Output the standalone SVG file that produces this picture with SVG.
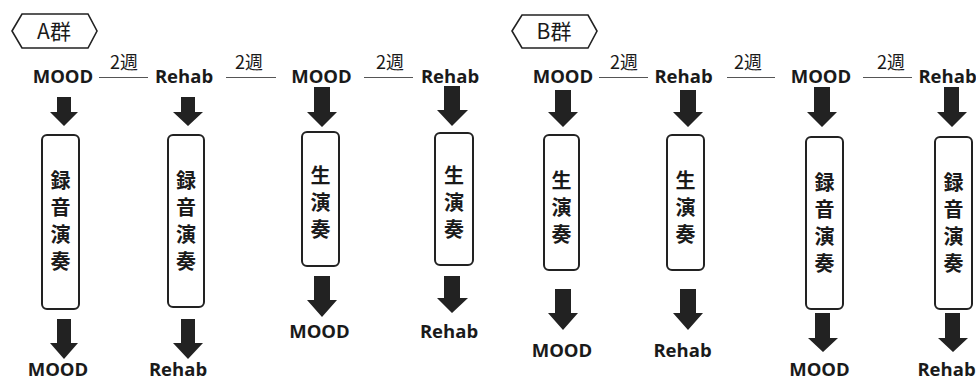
<svg xmlns="http://www.w3.org/2000/svg" width="976" height="378" viewBox="0 0 976 378">
<defs>
<style>
.lbl{font-family:"Open Sans","Noto Sans",sans-serif;font-weight:700;font-size:18.5px;fill:#1a1a1a;text-anchor:middle}
.wk{font-family:"Noto Sans CJK JP","Noto Sans",sans-serif;font-size:18px;fill:#1a1a1a;text-anchor:middle}
.grp{font-family:"Noto Sans CJK JP","Noto Sans",sans-serif;font-size:21px;fill:#1a1a1a;text-anchor:middle}
.box{fill:#fff;stroke:#222;stroke-width:2}
.hex{fill:#fff;stroke:#222;stroke-width:1.6}
.vt{font-family:"Noto Sans CJK JP",sans-serif;font-weight:700;font-size:20px;fill:#1a1a1a;writing-mode:vertical-rl;letter-spacing:7px;text-anchor:start}
.arr{fill:#222}
.ln{stroke:#555;stroke-width:1.2;fill:none}
</style>
</defs>
<rect width="976" height="378" fill="#fff"/>

<g id="groupA">
<polygon class="hex" points="12,31 22,14 88,14 97,31 88,48 22,48"/>
<text class="grp" x="54" y="39">A群</text>
</g>
<g id="groupB">
<polygon class="hex" points="512,31 522,15 588,15 597,31 588,48 522,48"/>
<text class="grp" x="554" y="39">B群</text>
</g>

<g id="connectors">
<line class="ln" x1="99" y1="77.5" x2="148" y2="77.5"/>
<line class="ln" x1="226" y1="77.5" x2="276" y2="77.5"/>
<line class="ln" x1="364" y1="77.5" x2="413" y2="77.5"/>
<line class="ln" x1="599" y1="77.5" x2="648" y2="77.5"/>
<line class="ln" x1="727" y1="77.5" x2="775" y2="77.5"/>
<line class="ln" x1="863" y1="77.5" x2="912" y2="77.5"/>
<text class="wk" x="124" y="69">2週</text>
<text class="wk" x="249" y="69">2週</text>
<text class="wk" x="390" y="69">2週</text>
<text class="wk" x="624" y="69">2週</text>
<text class="wk" x="748" y="69">2週</text>
<text class="wk" x="891" y="69">2週</text>
<polygon class="arr" points="57,97 71,97 71,112 78,112 64,126 50,112 57,112"/>
<polygon class="arr" points="57,319 71,319 71,343 78,343 64,359 50,343 57,343"/>
<polygon class="arr" points="181,97 195,97 195,112 203,112 188,126 173,112 181,112"/>
<polygon class="arr" points="181,319 195,319 195,343 203,343 188,359 173,343 181,343"/>
<polygon class="arr" points="314,87 330,87 330,112 337,112 322,127 307,112 314,112"/>
<polygon class="arr" points="314,276 330,276 330,300 337,300 322,317 307,300 314,300"/>
<polygon class="arr" points="444,86 460,86 460,110 468,110 452,126 437,110 444,110"/>
<polygon class="arr" points="444,276 460,276 460,298 468,298 452,313 437,298 444,298"/>
<polygon class="arr" points="555,90 571,90 571,112 578,112 563,127 548,112 555,112"/>
<polygon class="arr" points="555,289 571,289 571,313 578,313 563,330 548,313 555,313"/>
<polygon class="arr" points="680,90 696,90 696,112 703,112 688,127 673,112 680,112"/>
<polygon class="arr" points="680,289 696,289 696,313 703,313 688,330 673,313 680,313"/>
<polygon class="arr" points="814,87 830,87 830,112 837,112 822,127 807,112 814,112"/>
<polygon class="arr" points="815,313 830,313 830,338 838,338 823,352 808,338 815,338"/>
<polygon class="arr" points="944,87 959,87 959,112 967,112 952,127 937,112 944,112"/>
<polygon class="arr" points="945,313 960,313 960,338 968,338 953,352 938,338 945,338"/>
</g>

<g id="a1">
<text class="lbl" x="63" y="83">MOOD</text>
<rect class="box" x="42" y="135" width="37" height="174" rx="5"/>
<text class="vt" x="60.5" y="170">録音演奏</text>
<text class="lbl" x="58" y="376">MOOD</text>
</g>
<g id="a2">
<text class="lbl" x="184" y="83">Rehab</text>
<rect class="box" x="168" y="135" width="36" height="172" rx="5"/>
<text class="vt" x="186" y="170">録音演奏</text>
<text class="lbl" x="178" y="376">Rehab</text>
</g>
<g id="a3">
<text class="lbl" x="321.5" y="83">MOOD</text>
<rect class="box" x="302" y="132" width="37" height="134" rx="5"/>
<text class="vt" x="320.5" y="165">生演奏</text>
<text class="lbl" x="319.5" y="338">MOOD</text>
</g>
<g id="a4">
<text class="lbl" x="450" y="83">Rehab</text>
<rect class="box" x="435" y="133" width="38" height="132" rx="5"/>
<text class="vt" x="454" y="165">生演奏</text>
<text class="lbl" x="449" y="338">Rehab</text>
</g>
<g id="b5">
<text class="lbl" x="563" y="83">MOOD</text>
<rect class="box" x="544" y="135" width="35" height="135" rx="5"/>
<text class="vt" x="561.5" y="170">生演奏</text>
<text class="lbl" x="562" y="357">MOOD</text>
</g>
<g id="b6">
<text class="lbl" x="683.5" y="83">Rehab</text>
<rect class="box" x="667" y="135" width="37" height="135" rx="5"/>
<text class="vt" x="685.5" y="170">生演奏</text>
<text class="lbl" x="682.5" y="357">Rehab</text>
</g>
<g id="b7">
<text class="lbl" x="821" y="83">MOOD</text>
<rect class="box" x="806" y="137" width="37" height="172" rx="5"/>
<text class="vt" x="824.5" y="172">録音演奏</text>
<text class="lbl" x="819.5" y="376">MOOD</text>
</g>
<g id="b8">
<text class="lbl" x="947.5" y="83">Rehab</text>
<rect class="box" x="935" y="137" width="37" height="172" rx="5"/>
<text class="vt" x="953.5" y="172">録音演奏</text>
<text class="lbl" x="946.5" y="376">Rehab</text>
</g>
</svg>
